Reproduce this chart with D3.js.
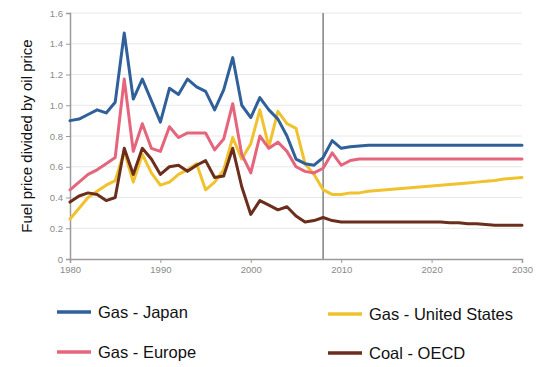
<!DOCTYPE html>
<html><head><meta charset="utf-8">
<script src="https://cdn.jsdelivr.net/npm/d3@7/dist/d3.min.js"></script>
<style>body{margin:0;background:#fff;}svg{display:block;font-family:"Liberation Sans",Arial,sans-serif;}</style>
</head><body>
<svg id="c" width="541" height="367"></svg>
<script>
const years = d3.range(1980, 2031);
const gasJapan = [0.90,0.91,0.94,0.97,0.95,1.02,1.47,1.04,1.17,1.03,0.89,1.11,1.07,1.17,1.12,1.09,0.97,1.10,1.31,1.00,0.92,1.05,0.97,0.91,0.80,0.65,0.62,0.61,0.66,0.77,0.72,0.73,0.735,0.74,0.74,0.74,0.74,0.74,0.74,0.74,0.74,0.74,0.74,0.74,0.74,0.74,0.74,0.74,0.74,0.74,0.74];
const gasEurope = [0.45,0.50,0.55,0.58,0.62,0.66,1.17,0.70,0.88,0.72,0.70,0.86,0.79,0.82,0.82,0.82,0.71,0.78,1.01,0.68,0.56,0.80,0.72,0.76,0.70,0.60,0.57,0.56,0.59,0.69,0.61,0.64,0.65,0.65,0.65,0.65,0.65,0.65,0.65,0.65,0.65,0.65,0.65,0.65,0.65,0.65,0.65,0.65,0.65,0.65,0.65];
const gasUS = [0.26,0.33,0.40,0.44,0.48,0.51,0.70,0.50,0.68,0.56,0.48,0.50,0.55,0.58,0.62,0.45,0.50,0.58,0.79,0.65,0.75,0.97,0.73,0.96,0.88,0.85,0.62,0.55,0.45,0.42,0.42,0.43,0.43,0.44,0.445,0.45,0.455,0.46,0.465,0.47,0.475,0.48,0.485,0.49,0.495,0.50,0.505,0.51,0.52,0.525,0.53];
const coalOECD = [0.37,0.41,0.43,0.42,0.38,0.40,0.72,0.55,0.72,0.65,0.55,0.60,0.61,0.57,0.61,0.64,0.53,0.54,0.72,0.47,0.29,0.38,0.35,0.32,0.34,0.28,0.24,0.25,0.27,0.25,0.24,0.24,0.24,0.24,0.24,0.24,0.24,0.24,0.24,0.24,0.24,0.24,0.235,0.235,0.23,0.23,0.225,0.22,0.22,0.22,0.22];
const seriesNames = ["Gas - Japan","Gas - Europe","Gas - United States","Coal - OECD"];
const seriesColors = ["#30609a","#e4657c","#f0c22e","#6b2d1c"];
const seriesValues = [gasJapan, gasEurope, gasUS, coalOECD];
const yTicks = [0,0.2,0.4,0.6,0.8,1.0,1.2,1.4,1.6];
const yTickLabels = ["0","0.2","0.4","0.6","0.8","1.0","1.2","1.4","1.6"];
const xTicks = [1980,1990,2000,2010,2020,2030];
const markerYear = 2008;

const svg = d3.select("#c");
const x = d3.scaleLinear().domain([1980,2030]).range([70,522]);
const y = d3.scaleLinear().domain([0,1.6]).range([259,13]);

svg.append("g").selectAll("line").data(yTicks.slice(1)).join("line")
  .attr("x1",x(1980)).attr("x2",x(2030)).attr("y1",d=>y(d)).attr("y2",d=>y(d))
  .attr("stroke","#e8e8e8").attr("stroke-width",1);

svg.append("line").attr("x1",x(markerYear)).attr("x2",x(markerYear)).attr("y1",y(1.6)).attr("y2",y(0))
  .attr("stroke","#808080").attr("stroke-width",1.5);

const yAxis = d3.axisLeft(y).tickValues(yTicks).tickFormat((d,i)=>yTickLabels[i]).tickSize(4).tickPadding(3);
const gy = svg.append("g").attr("transform",`translate(${x(1980)},0)`).call(yAxis);
const xAxis = d3.axisBottom(x).tickValues(xTicks).tickFormat(d3.format("d")).tickSize(4).tickPadding(3);
const gx = svg.append("g").attr("transform",`translate(0,${y(0)})`).call(xAxis);
[gx,gy].forEach(g=>{
  g.select(".domain").attr("stroke","#9a9a9a").attr("stroke-width",1.5);
  g.selectAll(".tick line").attr("stroke","#9a9a9a");
  g.selectAll(".tick text").attr("fill","#8a8a8a").attr("font-size","9.5px").attr("font-family","Liberation Sans, Arial, sans-serif");
});

const line = d3.line().x((d,i)=>x(years[i])).y(d=>y(d));
const order = [2,1,0,3];
order.forEach(k=>{
  svg.append("path").datum(seriesValues[k]).attr("d",line)
    .attr("fill","none").attr("stroke",seriesColors[k]).attr("stroke-width",3)
    .attr("stroke-linejoin","round").attr("stroke-linecap","round");
});

svg.append("text").attr("transform","translate(32,136) rotate(-90)")
  .attr("text-anchor","middle").attr("font-size","15px").attr("fill","#111")
  .text("Fuel price divided by oil price");

const legPos = [[57,312],[57,352],[328,314],[328,353]];
seriesNames.forEach((n,i)=>{
  const [lx,ly] = legPos[i];
  svg.append("line").attr("x1",lx).attr("x2",lx+34).attr("y1",ly).attr("y2",ly)
    .attr("stroke",seriesColors[i]).attr("stroke-width",3.5);
  svg.append("text").attr("x",lx+41).attr("y",ly+5.5).attr("font-size","16.5px").attr("fill","#111").text(n);
});
</script>
</body></html>
